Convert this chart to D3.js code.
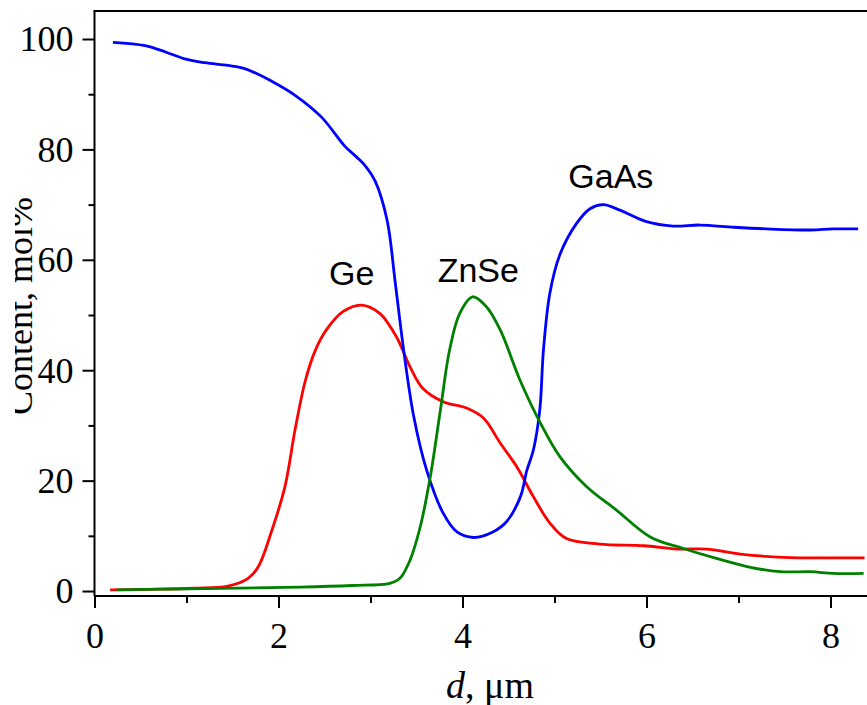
<!DOCTYPE html>
<html><head><meta charset="utf-8">
<script src="https://cdn.jsdelivr.net/npm/d3@7"></script>
<style>html,body{margin:0;padding:0;background:#fff;overflow:hidden}</style>
</head><body>
<svg id="chart" width="867" height="705"></svg>
<script>
// ---- data ----
const gaasX = [0.2,0.55,0.78,0.98,1.2,1.45,1.64,1.93,2.18,2.47,2.72,2.85,2.95,3.05,3.18,3.27,3.36,3.47,3.61,3.79,3.94,4.12,4.33,4.48,4.63,4.70,4.77,4.84,4.88,4.95,5.06,5.24,5.39,5.53,5.71,6.0,6.29,6.58,6.95,7.31,7.78,8.03,8.3];
const gaasY = [99.4,98.8,97.6,96.4,95.7,95.2,94.6,92.3,89.8,85.8,80.6,78.6,76.9,74.3,67.2,55.7,43.7,31.6,21.9,14.1,10.7,9.7,10.7,12.6,17.1,21.9,25.5,32.8,43.7,54.0,61.0,66.6,69.3,70.0,69.0,66.9,66.1,66.3,65.9,65.6,65.4,65.6,65.6];
const geX = [0.17,0.6,1.09,1.45,1.67,1.78,1.93,2.07,2.18,2.29,2.40,2.52,2.70,2.90,3.10,3.28,3.43,3.57,3.79,4.05,4.23,4.41,4.59,4.77,4.95,5.13,5.49,5.97,6.33,6.65,7.02,7.49,8.03,8.37];
const geY = [0.2,0.3,0.5,0.9,2.3,4.4,11.1,18.9,29.2,38.0,43.6,47.3,50.6,51.8,50.3,46.1,40.6,36.7,34.3,33.1,31.3,26.8,22.5,17.1,12.3,9.5,8.5,8.2,7.6,7.6,6.7,6.1,6.0,6.0];
const znseX = [0.24,1.0,2.23,2.8,3.21,3.32,3.43,3.54,3.65,3.76,3.86,3.97,4.11,4.26,4.41,4.63,4.86,5.06,5.35,5.67,6.04,6.40,6.76,7.13,7.45,7.78,8.03,8.36];
const znseY = [0.2,0.4,0.7,1.0,1.4,2.3,5.6,11.6,20.7,32.8,43.7,50.3,53.3,51.5,47.3,38.0,30.0,24.3,18.9,14.7,9.8,7.7,5.9,4.3,3.5,3.5,3.2,3.2];
const xTicks = [0,2,4,6,8];
const xMinor = [1,3,5,7];
const yTicks = [0,20,40,60,80,100];
const yMinor = [10,30,50,70,90];
const seriesNames = ["Ge","ZnSe","GaAs"];
const labelPos = [[2.55,55.5],[3.73,56],[5.15,73]];

// ---- layout ----
const svg = d3.select("#chart");
const x = d3.scaleLinear().domain([0, 8.4]).range([94.5, 867.3]);
const y = d3.scaleLinear().domain([-0.9, 105.07]).range([596, 11]);
const serif = "'Liberation Serif','Times New Roman',serif";
const sans = "'Liberation Sans',Arial,sans-serif";

// clip for y label
const defs = svg.append("defs");
defs.append("clipPath").attr("id","ylabclip").append("rect")
  .attr("x",15).attr("y",0).attr("width",60).attr("height",705);

// axes
const xAxis = svg.append("g").attr("transform","translate(0,596)")
  .call(d3.axisBottom(x).tickValues(xTicks).tickSize(12).tickPadding(14).tickFormat(d3.format("d")));
svg.append("g").attr("transform","translate(0,596)")
  .call(d3.axisBottom(x).tickValues(xMinor).tickSize(7).tickFormat(""))
  .call(g=>g.select(".domain").remove());
const yAxis = svg.append("g").attr("transform","translate(94.5,0)")
  .call(d3.axisLeft(y).tickValues(yTicks).tickSize(12).tickPadding(9).tickFormat(d3.format("d")));
svg.append("g").attr("transform","translate(94.5,0)")
  .call(d3.axisLeft(y).tickValues(yMinor).tickSize(6).tickFormat(""))
  .call(g=>g.select(".domain").remove());
svg.selectAll(".domain").attr("stroke","#000").attr("stroke-width",2);
svg.selectAll(".tick line").attr("stroke","#000").attr("stroke-width",2);
svg.selectAll(".tick text").attr("font-family",serif).attr("font-size",36).attr("fill","#000");
yAxis.selectAll(".tick text").attr("dy","0.33em");
xAxis.selectAll(".tick text").attr("dy","0.71em");
xAxis.select(".domain").attr("d",`M${x(0)},0H${x(8.4)}`);
yAxis.select(".domain").attr("d",`M0,${y(-0.9)}V${y(105.07)}`);
// top frame
svg.append("line").attr("x1",x(0)-1).attr("x2",867).attr("y1",y(105.07)).attr("y2",y(105.07))
  .attr("stroke","#000").attr("stroke-width",2);

// lines
const line = d3.line().x(d=>x(d[0])).y(d=>y(d[1])).curve(d3.curveCatmullRom.alpha(0.5));
const series = [
  {xs: geX, ys: geY, color: "#ff0000"},
  {xs: gaasX, ys: gaasY, color: "#0000ff"},
  {xs: znseX, ys: znseY, color: "#008000"}
];
series.forEach(s=>{
  const pts = s.xs.map((v,i)=>[v, s.ys[i]]);
  svg.append("path").datum(pts).attr("d",line).attr("fill","none")
    .attr("stroke",s.color).attr("stroke-width",2.8).attr("stroke-linejoin","round");
});

// series labels
svg.selectAll("text.slab").data(seriesNames).enter().append("text")
  .attr("class","slab")
  .attr("x",(d,i)=>x(labelPos[i][0])).attr("y",(d,i)=>y(labelPos[i][1]))
  .attr("font-family",sans).attr("font-size",34).attr("fill","#000")
  .text(d=>d);

// axis titles
svg.append("g").attr("clip-path","url(#ylabclip)")
  .append("text").attr("transform","translate(32,306) rotate(-90)")
  .attr("text-anchor","middle").attr("font-family",serif).attr("font-size",36)
  .text("Content, mol%");
const xt = svg.append("text").attr("x",490).attr("y",698).attr("text-anchor","middle")
  .attr("font-family",serif).attr("font-size",38);
xt.append("tspan").attr("font-style","italic").text("d");
xt.append("tspan").text(", μm");
</script>
</body></html>
